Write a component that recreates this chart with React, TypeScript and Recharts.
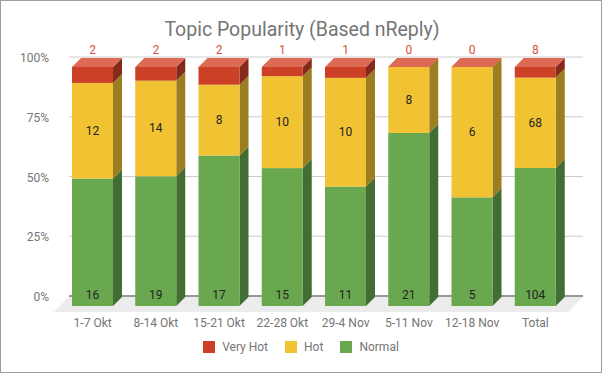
import React from 'react';
import { BarChart, Bar, XAxis, YAxis, CartesianGrid, Legend, LabelList } from 'recharts';

const weeks = ['1-7 Okt', '8-14 Okt', '15-21 Okt', '22-28 Okt', '29-4 Nov', '5-11 Nov', '12-18 Nov', 'Total'];
const normal = [16, 19, 17, 15, 11, 21, 5, 104];
const hot = [12, 14, 8, 10, 10, 8, 6, 68];
const veryHot = [2, 2, 2, 1, 1, 0, 0, 8];
const percentTicks = [0, 0.25, 0.5, 0.75, 1];

const data = weeks.map((week, i) => ({
  week,
  normal: normal[i],
  hot: hot[i],
  veryHot: veryHot[i],
}));

const FONT = 'Roboto, sans-serif';
const DEPTH = 9; // bar side / top depth
const SHIFT = 10; // back wall offset for grid

const legendItems = [
  { name: 'Very Hot', color: '#cc4125' },
  { name: 'Hot', color: '#f1c232' },
  { name: 'Normal', color: '#6aa84f' },
];

// 3d-ish box: front face, right side, and optional top lid
const box = (front: string, side: string, hasLid: (p: any) => boolean) => (props: any) => {
  const { x, y, width, height } = props;
  const r = x + width;
  return (
    <g>
      <polygon
        points={`${r},${y} ${r + DEPTH},${y - DEPTH} ${r + DEPTH},${y + height - DEPTH} ${r},${y + height}`}
        fill={side}
      />
      <rect x={x} y={y} width={width} height={height} fill={front} />
      {hasLid(props) && (
        <polygon
          points={`${x},${y} ${x + DEPTH},${y - DEPTH} ${r + DEPTH},${y - DEPTH} ${r},${y}`}
          fill="#dc6a54"
        />
      )}
    </g>
  );
};

const gridLine = (props: any) => {
  const { x1, y1, x2, y, height, index } = props;
  const isBase = y != null && height != null ? Math.abs(y1 - (y + height)) < 0.5 : index === 0;
  if (isBase) {
    return (
      <g key={props.key}>
        <polygon
          points={`${x1 + 8},${y1 - 9} ${x2 + 16},${y1 - 9} ${x2 + 1},${y1 + 6} ${x1 - 7},${y1 + 6}`}
          fill="#ececec"
        />
        <line x1={x1 + 8} y1={y1 - SHIFT} x2={x2 + 16} y2={y1 - SHIFT} stroke="#333" strokeWidth={1} />
      </g>
    );
  }
  return (
    <line key={props.key} x1={x1 + 8} y1={y1 - SHIFT} x2={x2 + 16} y2={y1 - SHIFT} stroke="#cccccc" strokeWidth={1} />
  );
};

const YTick = ({ y, payload }: any) => (
  <text x={49} y={y - SHIFT + 1} textAnchor="end" dominantBaseline="central" fill="#757575" fontSize={12} fontFamily={FONT}>
    {Math.round(payload.value * 100)}%
  </text>
);

const XTick = ({ x, y, payload }: any) => (
  <text x={x} y={y + 9} textAnchor="middle" dominantBaseline="central" fill="#757575" fontSize={12} fontFamily={FONT}>
    {payload.value}
  </text>
);

const topLabel = ({ x, y, width, value }: any) => (
  <text x={x + width / 2} y={y - 17} textAnchor="middle" dominantBaseline="central" fill="#d5503b" fontSize={12} fontFamily={FONT}>
    {value}
  </text>
);

const midLabel = ({ x, y, width, height, value }: any) => (
  <text x={x + width / 2} y={y + height / 2} textAnchor="middle" dominantBaseline="central" fill="#222" fontSize={12} fontFamily={FONT}>
    {value}
  </text>
);

const bottomLabel = ({ x, y, width, height, value }: any) => (
  <text x={x + width / 2} y={y + height - 11} textAnchor="middle" dominantBaseline="central" fill="#222" fontSize={12} fontFamily={FONT}>
    {value}
  </text>
);

const renderLegend = () => (
  <div
    style={{
      display: 'flex',
      justifyContent: 'center',
      alignItems: 'center',
      height: 20,
      fontFamily: FONT,
      fontSize: 12,
      color: '#757575',
    }}
  >
    {legendItems.map((item, i) => (
      <div key={item.name} style={{ display: 'flex', alignItems: 'center', marginLeft: i === 0 ? 0 : 17 }}>
        <span style={{ width: 12, height: 12, background: item.color, display: 'inline-block', marginRight: 7 }} />
        <span>{item.name}</span>
      </div>
    ))}
  </div>
);

export default function App() {
  return (
    <div style={{ position: 'absolute', left: 0, top: 0, width: 602, height: 373, background: '#fff' }}>
      <div
        style={{
          position: 'absolute',
          top: 18,
          left: 1,
          width: 602,
          height: 24,
          lineHeight: '24px',
          textAlign: 'center',
          fontFamily: FONT,
          fontSize: 19.5,
          color: '#757575',
        }}
      >
        Topic Popularity (Based nReply)
      </div>
      <BarChart
        width={602}
        height={373}
        data={data}
        stackOffset="expand"
        margin={{ top: 67, right: 35, left: 0, bottom: 16 }}
      >
        <CartesianGrid vertical={false} horizontal={gridLine} />
        <XAxis dataKey="week" axisLine={false} tickLine={false} height={31} tick={<XTick />} interval={0} />
        <YAxis
          width={61}
          domain={[0, 1]}
          ticks={percentTicks}
          axisLine={false}
          tickLine={false}
          tick={<YTick />}
        />
        <Legend verticalAlign="bottom" height={20} content={renderLegend} wrapperStyle={{ left: 0, width: 602 }} />
        <Bar
          dataKey="normal"
          stackId="a"
          barSize={41}
          isAnimationActive={false}
          shape={box('#6aa84f', '#436e33', () => false)}
        >
          <LabelList dataKey="normal" content={bottomLabel} />
        </Bar>
        <Bar
          dataKey="hot"
          stackId="a"
          barSize={41}
          isAnimationActive={false}
          shape={box('#f1c232', '#9c7e20', (p) => p.payload && p.payload.veryHot === 0)}
        >
          <LabelList dataKey="hot" content={midLabel} />
        </Bar>
        <Bar
          dataKey="veryHot"
          stackId="a"
          barSize={41}
          isAnimationActive={false}
          shape={box('#cc4125', '#85291a', () => true)}
        >
          <LabelList dataKey="veryHot" content={topLabel} />
        </Bar>
      </BarChart>
      <div
        style={{
          position: 'absolute',
          inset: 0,
          border: '1px solid #9e9e9e',
          pointerEvents: 'none',
        }}
      />
    </div>
  );
}
